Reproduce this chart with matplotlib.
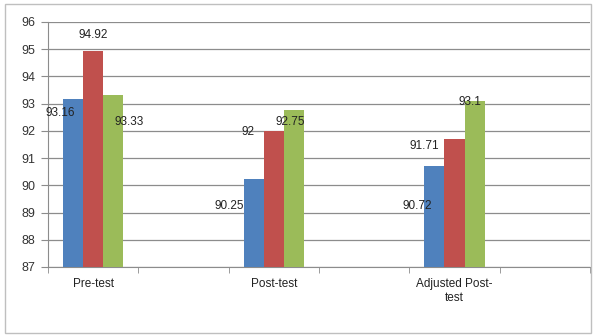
import matplotlib
matplotlib.use("Agg")
import matplotlib.pyplot as plt
from matplotlib.patches import Rectangle
import numpy as np

# Category slots (empty slots keep the spacing of the original chart)
categories = ["Pre-test", "", "Post-test", "", "Adjusted Post-\ntest", ""]
series_a = [93.16, None, 90.25, None, 90.72, None]
series_b = [94.92, None, 92.00, None, 91.71, None]
series_c = [93.33, None, 92.75, None, 93.10, None]
label_a = ["93.16", None, "90.25", None, "90.72", None]
label_b = ["94.92", None, "92", None, "91.71", None]
label_c = ["93.33", None, "92.75", None, "93.1", None]
y_ticks = list(range(87, 97))

colors = ["#4F81BD", "#C0504D", "#9BBB59"]

plt.rcParams["font.family"] = ["Liberation Sans", "DejaVu Sans"]

fig = plt.figure(figsize=(5.93, 3.36), dpi=100)
ax = fig.add_axes([48 / 593, 1 - 267 / 336, (590 - 48) / 593, (267 - 22) / 336])

# outer chart frame
fig.patches.append(Rectangle((5 / 593, 3 / 336), 586 / 593, 329 / 336,
                             transform=fig.transFigure, fill=False,
                             edgecolor="#BFBFBF", linewidth=1.0))

x = np.arange(len(categories))
w = 0.222
base = 87
for i, (vals, col) in enumerate(zip([series_a, series_b, series_c], colors)):
    xs = [xi + (i - 1) * w for xi, v in zip(x, vals) if v is not None]
    vs = [v - base for v in vals if v is not None]
    ax.bar(xs, vs, width=w, bottom=base, color=col, zorder=3)

# data labels, offset from each bar's category centre and value
def put(xc, yc, txt):
    ax.text(xc, yc, txt, ha="center", va="center", fontsize=8.5, color="#222222", zorder=4)

# Pre-test
put(x[0] - 0.365, series_a[0] - 0.52, label_a[0])
put(x[0], series_b[0] + 0.6, label_b[0])
put(x[0] + 0.40, series_c[0] - 1.0, label_c[0])
# Post-test
put(x[2] - 0.49, series_a[2] - 1.0, label_a[2])
put(x[2] - 0.29, series_b[2] - 0.05, label_b[2])
put(x[2] + 0.18, series_c[2] - 0.43, label_c[2])
# Adjusted post-test
put(x[4] - 0.41, series_a[4] - 1.48, label_a[4])
put(x[4] - 0.33, series_b[4] - 0.27, label_b[4])
put(x[4] + 0.17, series_c[4] - 0.05, label_c[4])

ax.set_ylim(87, 96)
ax.set_xlim(-0.5, len(categories) - 0.5)
ax.set_yticks(y_ticks)
ax.set_yticklabels([str(t) for t in y_ticks], fontsize=9, color="#333333")
ax.yaxis.grid(True, color="#8C8C8C", linewidth=0.9, zorder=0)
ax.set_axisbelow(True)

ax.set_xticks(x)
ax.set_xticklabels(categories, fontsize=8.5, color="#222222")
ax.set_xticks(np.arange(-0.5, len(categories), 1.0), minor=True)
ax.tick_params(axis="x", which="major", length=0, pad=8)
ax.tick_params(axis="x", which="minor", length=4, color="#8C8C8C", direction="out")
ax.tick_params(axis="y", length=5, color="#8C8C8C", pad=4)

for s in ["top", "right"]:
    ax.spines[s].set_visible(False)
ax.spines["left"].set_color("#8C8C8C")
ax.spines["bottom"].set_color("#8C8C8C")

fig.savefig("out.png", dpi=100)
